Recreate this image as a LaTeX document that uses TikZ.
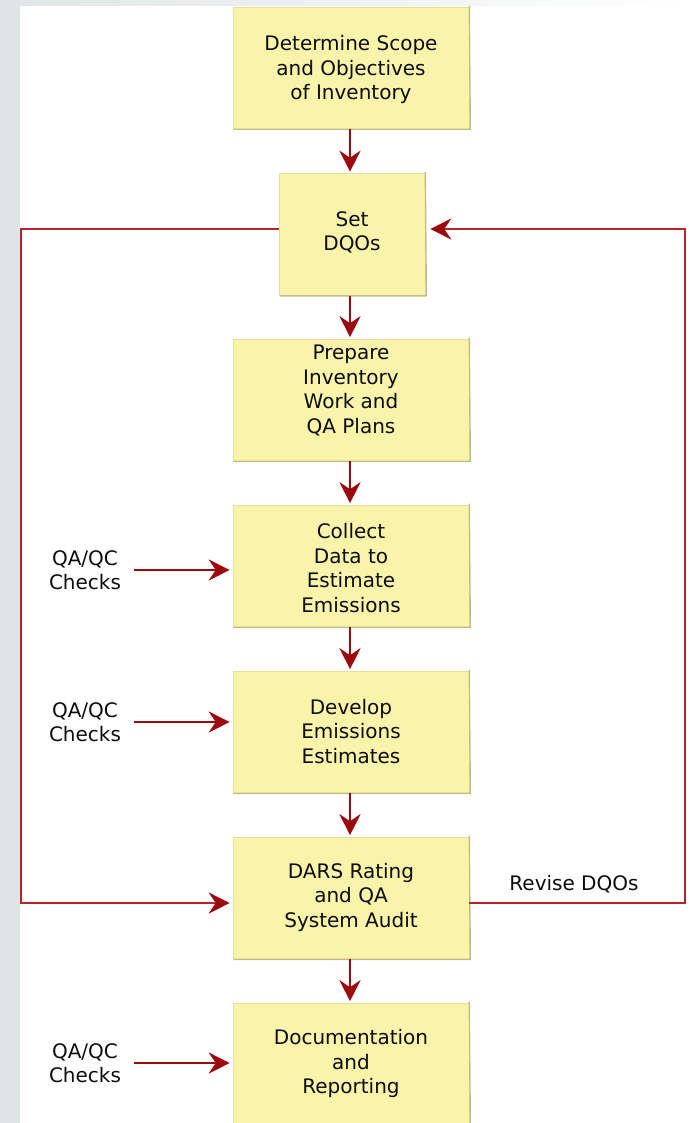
\documentclass[tikz,border=0pt]{standalone}
\usepackage{fontspec}
\setmainfont{DejaVu Sans}
\usetikzlibrary{arrows.meta,shadings}
\definecolor{boxfill}{HTML}{FAF4AA}
\definecolor{boxedge}{HTML}{E6DE9C}
\definecolor{boxshadow}{HTML}{C4BC86}
\definecolor{flowred}{HTML}{9C0A0E}
\definecolor{looped}{HTML}{B4262A}
\definecolor{sidegray}{HTML}{DFE5E5}
\tikzset{
  stepbox/.style={draw=boxedge, line width=0.6pt, fill=boxfill, minimum height=122pt, inner sep=0pt},
  widebox/.style={stepbox, minimum width=236pt},
  narrowbox/.style={stepbox, minimum width=146pt},
  boxtext/.style={align=center, font=\fontsize{20}{24.5}\selectfont, text=black!95, inner sep=0pt},
  sidetext/.style={boxtext, inner sep=0pt},
  flow/.style={draw=flowred, line width=2.6pt, -{Stealth[length=21pt,width=21pt,inset=7pt]}},
  loopline/.style={draw=looped, line width=2pt},
}
\begin{document}
\begin{tikzpicture}[x=1pt,y=-1pt]
  % page frame: grey strips on the left and top edges
  \useasboundingbox (0,0) rectangle (691,1123);
  \fill[white] (0,0) rectangle (691,1123);
  \shade[left color=sidegray, right color=white] (0,0) rectangle (691,6);
  \fill[sidegray] (0,0) rectangle (20,1123);

  % process boxes
  \node[widebox]   (b1) at (351,68)    {};
  \node[narrowbox] (b2) at (352,234.5) {};
  \node[widebox]   (b3) at (351,400)   {};
  \node[widebox]   (b4) at (351,566)   {};
  \node[widebox]   (b5) at (351,732)   {};
  \node[widebox]   (b6) at (351,898)   {};
  \node[widebox]   (b7) at (351,1064)  {};

  % soft shadow along the bottom and right edge of each box
  \foreach \b in {b1,b2,b3,b4,b5,b6,b7}{
    \draw[boxshadow, line width=1.4pt] ([xshift=1pt]\b.south west) -- ([xshift=1pt]\b.south east) -- ([yshift=1pt]\b.north east);
  }

  % box texts
  \node[boxtext] (t1) at (351,69.5)  {Determine Scope\\and Objectives\\of Inventory};
  \node[boxtext] (t2) at (352,232.5) {Set\\DQOs};
  \node[boxtext] (t3) at (351,390.5) {Prepare\\Inventory\\Work and\\QA Plans};
  \node[boxtext] (t4) at (351,568)   {Collect\\Data to\\Estimate\\Emissions};
  \node[boxtext] (t5) at (351,731.5) {Develop\\Emissions\\Estimates};
  \node[boxtext] (t6) at (351,897)   {DARS Rating\\and QA\\System Audit};
  \node[boxtext] (t7) at (351,1063.5){Documentation\\and\\Reporting};

  % side inputs
  \node[sidetext] (q1) at (85,570)  {QA/QC\\Checks};
  \node[sidetext] (q2) at (85,722)  {QA/QC\\Checks};
  \node[sidetext] (q3) at (85,1063) {QA/QC\\Checks};
  \node[sidetext] (rv) at (574,884) {Revise DQOs};

  % main flow, straight down the centre line
  \coordinate (axis) at (350,0);
  \foreach \a/\c in {b1/b2,b2/b3,b3/b4,b4/b5,b5/b6,b6/b7}{
    \path[flow, shorten >=1.5pt] (axis |- \a.south) -- (axis |- \c.north);
  }

  % QA/QC checks feeding in
  \foreach \q/\c in {q1/b4,q2/b5,q3/b7}{
    \path[flow, line width=2.2pt, shorten <=13pt, shorten >=3pt] (\q.east |- \q.center) -- (\c.west |- \q.center);
  }

  % feedback loops around the DQO box
  \coordinate (lt) at (21,229);
  \coordinate (lb) at (21,903);
  \coordinate (rt) at (685,229);
  \coordinate (rb) at (685,903);
  \draw[loopline] (b2.west |- lt) -- (lt) -- (lb) -- ([xshift=-14pt]b6.west |- lb);
  \path[flow, line width=2pt, shorten >=3pt] ([xshift=-16pt]b6.west |- lb) -- (b6.west |- lb);
  \draw[loopline] (b6.east |- rb) -- (rb) -- (rt) -- ([xshift=16pt]b2.east |- rt);
  \path[flow, line width=2pt, shorten >=5pt] ([xshift=18pt]b2.east |- rt) -- (b2.east |- rt);
\end{tikzpicture}
\end{document}
